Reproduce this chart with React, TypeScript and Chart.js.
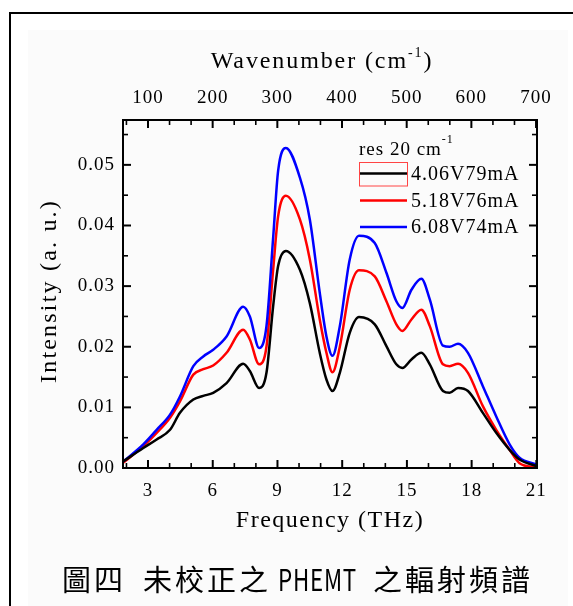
import React, { useEffect, useRef } from "react";
import { Chart, registerables } from "chart.js";

Chart.register(...registerables);

// ---------------- data ----------------
const frequencyTHz = [
  1.86, 2.78, 3.4, 4.02, 4.48, 5.1, 5.56, 6.02, 6.64, 7.41, 7.72, 8.15, 8.49, 8.8, 9.03, 9.39,
  10.04, 10.5, 10.96, 11.27, 11.55, 11.89, 12.35, 12.78, 13.51, 14.05, 14.51, 14.79, 15.21,
  15.67, 16.06, 16.67, 16.98, 17.37, 17.83, 18.52, 19.14, 19.76, 20.22, 21.0,
];
// 4.06V79mA
const seriesBlack = [
  0.0011, 0.0033, 0.0047, 0.0063, 0.0091, 0.0113, 0.0119, 0.0124, 0.014, 0.0172, 0.016, 0.0132,
  0.0157, 0.0267, 0.0333, 0.0358, 0.0327, 0.0272, 0.019, 0.0146, 0.0127, 0.0157, 0.0223, 0.0249,
  0.0237, 0.0201, 0.0171, 0.0165, 0.0179, 0.019, 0.0171, 0.0127, 0.0124, 0.0132, 0.0127, 0.0091,
  0.0058, 0.003, 0.0014, 0.0003,
];
// 5.18V76mA
const seriesRed = [
  0.0009, 0.0036, 0.0058, 0.0083, 0.011, 0.0154, 0.0163, 0.0169, 0.019, 0.0228, 0.0212, 0.0171,
  0.02, 0.0327, 0.0415, 0.0449, 0.041, 0.0344, 0.0245, 0.019, 0.0158, 0.02, 0.0294, 0.0326,
  0.0316, 0.0275, 0.0237, 0.0226, 0.0245, 0.0261, 0.0234, 0.0171, 0.0168, 0.0172, 0.0157, 0.0102,
  0.0063, 0.003, 0.0008, 0.0001,
];
// 6.08V74mA
const seriesBlue = [
  0.0011, 0.0039, 0.0063, 0.0088, 0.0118, 0.0168, 0.0184, 0.0195, 0.0217, 0.0266, 0.025, 0.0198,
  0.0234, 0.038, 0.049, 0.0528, 0.0479, 0.041, 0.0289, 0.0217, 0.0185, 0.0234, 0.0344, 0.0383,
  0.0371, 0.0322, 0.0275, 0.0264, 0.0294, 0.0312, 0.0278, 0.0202, 0.02, 0.0205, 0.019, 0.0135,
  0.0085, 0.0039, 0.0017, 0.0006,
];
const seriesLabels = ["4.06V79mA", "5.18V76mA", "6.08V74mA"];
const seriesColors = ["#000000", "#ff0000", "#0000ff"];
const freqTicks = [3, 6, 9, 12, 15, 18, 21];
const freqMinorTicks = [2, 4, 5, 7, 8, 10, 11, 13, 14, 16, 17, 19, 20];
const wavenumberTicks = [100, 200, 300, 400, 500, 600, 700];
const wavenumberMinorTicks = [
  66.67, 133.33, 166.67, 233.33, 266.67, 333.33, 366.67, 433.33, 466.67, 533.33, 566.67, 633.33,
  666.67,
];
const intensityTicks = [0, 0.01, 0.02, 0.03, 0.04, 0.05];
const intensityMinorTicks = [0.005, 0.015, 0.025, 0.035, 0.045, 0.055];

const X_MIN = 1.84;
const X_MAX = 21.03;
const Y_MIN = 0;
const Y_MAX = 0.0574;
const THZ_TO_CM = 33.356;

const W = 573;
const H = 606;
const SERIF = '"Liberation Serif", "Times New Roman", serif';
const CJK = '"Noto Sans CJK TC", "Noto Sans CJK SC", sans-serif';

const decorPlugin = {
  id: "decor",
  beforeDraw(chart: any) {
    const ctx = chart.ctx as CanvasRenderingContext2D;
    ctx.save();
    ctx.fillStyle = "#ffffff";
    ctx.fillRect(0, 0, W, H);
    ctx.fillStyle = "#fbfbfb";
    ctx.fillRect(28, 30, 540, 600);
    // outer frame (left and top visible)
    ctx.strokeStyle = "#000";
    ctx.lineWidth = 2;
    ctx.strokeRect(10, 13, 700, 700);
    ctx.restore();
    (ctx as any).letterSpacing = "1px";
  },
  afterDatasetsDraw(chart: any) {
    const ctx = chart.ctx as CanvasRenderingContext2D;
    const { left, right, top, bottom } = chart.chartArea;
    const sx = chart.scales.x;
    const sx2 = chart.scales.x2;
    const sy = chart.scales.y;
    ctx.save();
    ctx.strokeStyle = "#000";
    // plot frame
    ctx.lineWidth = 2;
    ctx.strokeRect(left, top, right - left, bottom - top);
    const tick = (x1: number, y1: number, x2: number, y2: number, w: number) => {
      ctx.lineWidth = w;
      ctx.beginPath();
      ctx.moveTo(x1, y1);
      ctx.lineTo(x2, y2);
      ctx.stroke();
    };
    const MAJ = 8;
    const MIN = 5;
    intensityTicks.forEach((v) => {
      const y = sy.getPixelForValue(v);
      tick(left, y, left + MAJ, y, 2);
      tick(right, y, right - MAJ, y, 2);
    });
    intensityMinorTicks.forEach((v) => {
      const y = sy.getPixelForValue(v);
      tick(left, y, left + MIN, y, 1.6);
      tick(right, y, right - MIN, y, 1.6);
    });
    freqTicks.forEach((v) => {
      const x = sx.getPixelForValue(v);
      tick(x, bottom, x, bottom - MAJ, 2);
    });
    freqMinorTicks.forEach((v) => {
      const x = sx.getPixelForValue(v);
      tick(x, bottom, x, bottom - MIN, 1.6);
    });
    wavenumberTicks.forEach((v) => {
      const x = sx2.getPixelForValue(v);
      tick(x, top, x, top + MAJ, 2);
    });
    wavenumberMinorTicks.forEach((v) => {
      const x = sx2.getPixelForValue(v);
      tick(x, top, x, top + MIN, 1.6);
    });

    // axis titles
    ctx.fillStyle = "#000";
    (ctx as any).letterSpacing = "1.9px";
    ctx.textBaseline = "alphabetic";
    // top title with superscript
    ctx.font = `24px ${SERIF}`;
    const t1 = "Wavenumber (cm";
    const t3 = ")";
    const w1 = ctx.measureText(t1).width;
    const w3 = ctx.measureText(t3).width;
    ctx.font = `14px ${SERIF}`;
    const sup = "-1";
    const w2 = ctx.measureText(sup).width;
    const cxTop = 322;
    const x0 = cxTop - (w1 + w2 + w3) / 2;
    ctx.textAlign = "left";
    ctx.font = `24px ${SERIF}`;
    ctx.fillText(t1, x0, 68);
    ctx.font = `14px ${SERIF}`;
    ctx.fillText(sup, x0 + w1, 57);
    ctx.font = `24px ${SERIF}`;
    ctx.fillText(t3, x0 + w1 + w2, 68);

    (ctx as any).letterSpacing = "1.5px";
    ctx.textAlign = "center";
    ctx.fillText("Frequency (THz)", (left + right) / 2, 527);

    (ctx as any).letterSpacing = "2.2px";
    ctx.save();
    ctx.translate(56, 291);
    ctx.rotate(-Math.PI / 2);
    ctx.fillText("Intensity (a. u.)", 0, 0);
    ctx.restore();

    // legend
    (ctx as any).letterSpacing = "1px";
    ctx.textAlign = "left";
    ctx.font = `19px ${SERIF}`;
    const r1 = "res 20 cm";
    const rw = ctx.measureText(r1).width;
    ctx.fillText(r1, 359, 155);
    ctx.font = `12px ${SERIF}`;
    ctx.fillText("-1", 359 + rw, 143);

    const rows = [173.5, 200.5, 227];
    ctx.font = `20px ${SERIF}`;
    ctx.textBaseline = "middle";
    rows.forEach((ry, i) => {
      ctx.strokeStyle = seriesColors[i];
      ctx.lineWidth = 2.5;
      ctx.beginPath();
      ctx.moveTo(360, ry);
      ctx.lineTo(407, ry);
      ctx.stroke();
      ctx.fillStyle = "#000";
      ctx.fillText(seriesLabels[i], 411, ry + 1);
    });
    ctx.strokeStyle = "#ff4444";
    ctx.lineWidth = 1;
    ctx.strokeRect(359.5, 162.5, 48, 23.5);

    // caption
    ctx.fillStyle = "#000";
    ctx.textBaseline = "middle";
    ctx.textAlign = "left";
    (ctx as any).letterSpacing = "3px";
    ctx.font = `29px ${CJK}`;
    ctx.fillText("圖四", 62, 580);
    ctx.fillText("未校正之", 143, 580);
    ctx.fillText("之輻射頻譜", 373, 580);
    (ctx as any).letterSpacing = "1px";
    ctx.font = `30px ${CJK}`;
    ctx.fillText("PHEMT", 278, 580, 79);
    ctx.restore();
  },
};

const tickFont = { family: SERIF, size: 19 };

export default function App() {
  const ref = useRef<HTMLCanvasElement | null>(null);
  useEffect(() => {
    if (!ref.current) return;
    const mk = (vals: number[]) => frequencyTHz.map((f, i) => ({ x: f, y: vals[i] }));
    const datasets = [
      { label: seriesLabels[0], data: mk(seriesBlack), borderColor: seriesColors[0] },
      { label: seriesLabels[2], data: mk(seriesBlue), borderColor: seriesColors[2] },
      { label: seriesLabels[1], data: mk(seriesRed), borderColor: seriesColors[1] },
    ].map((d) => ({
      ...d,
      borderWidth: 2.5,
      pointRadius: 0,
      fill: false,
      cubicInterpolationMode: "monotone" as const,
      xAxisID: "x",
      yAxisID: "y",
    }));
    const chart = new Chart(ref.current, {
      type: "line",
      data: { datasets },
      plugins: [decorPlugin],
      options: {
        animation: false,
        responsive: false,
        maintainAspectRatio: false,
        events: [],
        layout: { padding: 0 },
        plugins: { legend: { display: false }, tooltip: { enabled: false }, title: { display: false } },
        scales: {
          x: {
            type: "linear",
            position: "bottom",
            min: X_MIN,
            max: X_MAX,
            afterFit: (s: any) => {
              s.height = H - 468;
            },
            afterBuildTicks: (s: any) => {
              s.ticks = freqTicks.map((v) => ({ value: v }));
            },
            ticks: {
              font: tickFont,
              color: "#000",
              padding: 12,
              maxRotation: 0,
              autoSkip: false,
              callback: (v: any) => String(v),
            },
            grid: { display: false, drawTicks: false },
            border: { display: false },
          },
          x2: {
            type: "linear",
            position: "top",
            min: X_MIN * THZ_TO_CM,
            max: X_MAX * THZ_TO_CM,
            afterFit: (s: any) => {
              s.height = 120;
            },
            afterBuildTicks: (s: any) => {
              s.ticks = wavenumberTicks.map((v) => ({ value: v }));
            },
            ticks: {
              font: tickFont,
              color: "#000",
              padding: 11,
              maxRotation: 0,
              autoSkip: false,
              callback: (v: any) => String(v),
            },
            grid: { display: false, drawTicks: false },
            border: { display: false },
          },
          y: {
            type: "linear",
            position: "left",
            min: Y_MIN,
            max: Y_MAX,
            afterFit: (s: any) => {
              s.width = 123;
            },
            afterBuildTicks: (s: any) => {
              s.ticks = intensityTicks.map((v) => ({ value: v }));
            },
            ticks: {
              font: tickFont,
              color: "#000",
              padding: 8,
              autoSkip: false,
              callback: (v: any) => Number(v).toFixed(2),
            },
            grid: { display: false, drawTicks: false },
            border: { display: false },
          },
          y2: {
            type: "linear",
            position: "right",
            min: Y_MIN,
            max: Y_MAX,
            afterFit: (s: any) => {
              s.width = W - 537;
            },
            ticks: { display: false },
            grid: { display: false, drawTicks: false },
            border: { display: false },
          },
        },
      } as any,
    });
    return () => chart.destroy();
  }, []);
  return (
    <div style={{ position: "absolute", left: 0, top: 0, width: W, height: H }}>
      <canvas ref={ref} width={W} height={H} style={{ width: W, height: H, display: "block" }} />
    </div>
  );
}
